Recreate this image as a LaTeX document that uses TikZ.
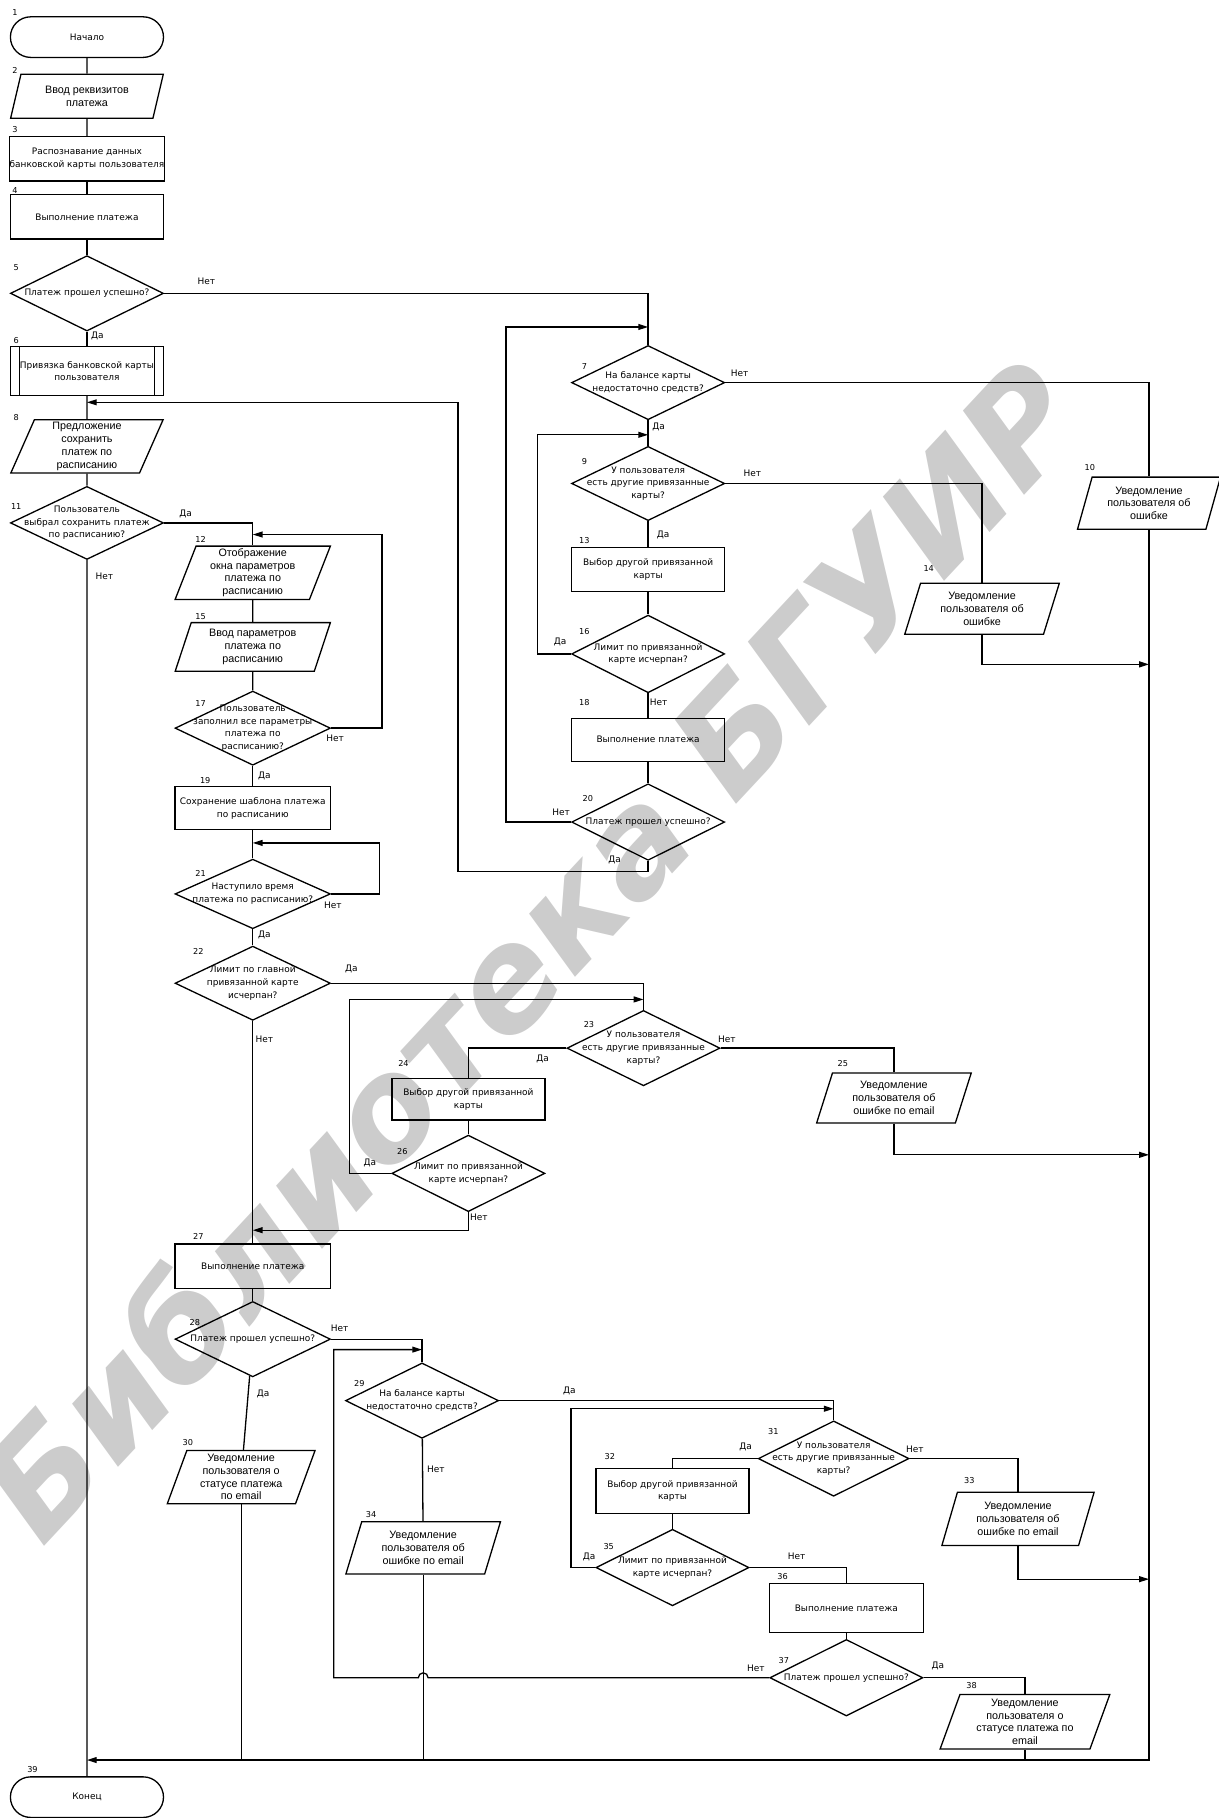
\documentclass[tikz,border=0pt]{standalone}
\usepackage{fontspec}
\usepackage{tikz}
\usetikzlibrary{arrows.meta, positioning, shapes.geometric, shapes.misc}
\newfontfamily\tahomalike{DejaVu Sans}
\newfontfamily\arialike{Liberation Sans}
\newcommand{\smalltxt}{\tahomalike\fontsize{5.5pt}{7.8pt}\selectfont}
\newcommand{\bigtxt}{\arialike\fontsize{6.6pt}{7.8pt}\selectfont}
\newcommand{\numtxt}{\tahomalike\fontsize{5pt}{6pt}\selectfont}
\newcommand{\wmtxt}{\tahomalike\bfseries\itshape\fontsize{86pt}{90pt}\selectfont}

\begin{document}
\begin{tikzpicture}[x=0.025cm, y=-0.025cm,
  conn/.style={line width=0.8pt},
  arr/.style={conn, -{Triangle[length=6pt, width=3.6pt]}},
  term/.style={draw, line width=0.8pt, rounded rectangle, minimum width=3.3cm, minimum height=0.875cm, inner sep=0pt, font=\smalltxt},
  proc/.style={draw, line width=0.8pt, rectangle, minimum width=3.3cm, minimum height=0.95cm, inner sep=0pt, align=center, font=\smalltxt},
  pred/.style={proc, path picture={
    \draw[conn] ([xshift=0.2cm]path picture bounding box.north west) -- ([xshift=0.2cm]path picture bounding box.south west);
    \draw[conn] ([xshift=-0.2cm]path picture bounding box.north east) -- ([xshift=-0.2cm]path picture bounding box.south east);}},
  io/.style={draw, line width=0.8pt, trapezium, trapezium left angle=72, trapezium right angle=108, trapezium stretches=true, minimum width=3.3cm, minimum height=1.15cm, inner sep=0pt, align=center, font=\bigtxt},
  dec/.style={draw, line width=0.8pt, diamond, minimum width=3.3cm, minimum height=1.625cm, inner sep=0pt},
  dtxt/.style={font=\smalltxt, align=center, inner sep=0pt},
  num/.style={font=\numtxt, inner sep=0pt},
  yn/.style={font=\smalltxt, inner sep=0pt},
  wmark/.style={font=\wmtxt, text=black!20, rotate=47, inner sep=0pt}]
\useasboundingbox (0,0) rectangle (1051,1568);
% watermark behind the chart
\node[wmark] (wm) at (455,818) {Библиотека БГУИР};

% left column
\node[term] (n1) at (75,32) {Начало};
\node[io, minimum height=0.95cm] (n2) at (75,83) {Ввод реквизитов\\платежа};
\node[proc] (n3) at (75,137) {Распознавание данных\\банковской карты пользователя};
\node[proc] (n4) at (75,187) {Выполнение платежа};
\node[dec, label={[dtxt]center:{Платеж прошел успешно?}}] (n5) at (75,253) {};
\node[pred, minimum height=1.05cm] (n6) at (75,320) {Привязка банковской карты\\пользователя};
\node[io] (n8) at (75,385) {Предложение\\сохранить\\платеж по\\расписанию};
\node[dec, minimum height=1.575cm, label={[dtxt]center:{Пользователь\\выбрал сохранить платеж\\по расписанию?}}] (n11) at (75,451) {};
\node[term] (n39) at (75,1550) {Конец};

% schedule column
\node[io, minimum width=3.35cm] (n12) at (218,494) {Отображение\\окна параметров\\платежа по\\расписанию};
\node[io, minimum width=3.35cm, minimum height=1.05cm] (n15) at (218,558) {Ввод параметров\\платежа по\\расписанию};
\node[dec, minimum width=3.35cm, minimum height=1.6cm, label={[dtxt]center:{Пользователь\\заполнил все параметры\\платежа по\\расписанию?}}] (n17) at (218,628) {};
\node[proc, minimum width=3.35cm, minimum height=0.925cm] (n19) at (218,697) {Сохранение шаблона платежа\\по расписанию};
\node[dec, minimum width=3.35cm, minimum height=1.5cm, label={[dtxt]center:{Наступило время\\платежа по расписанию?}}] (n21) at (218,771) {};
\node[dec, minimum width=3.35cm, minimum height=1.6cm, label={[dtxt]center:{Лимит по главной\\привязанной карте\\исчерпан?}}] (n22) at (218,848) {};
\node[proc, minimum width=3.35cm] (n27) at (218,1092) {Выполнение платежа};
\node[dec, minimum width=3.35cm, label={[dtxt]center:{Платеж прошел успешно?}}] (n28) at (218,1155) {};
\node[io, minimum width=3.2cm] (n30) at (208,1274) {Уведомление\\пользователя о\\статусе платежа\\по email};

% card column, first payment
\node[dec, minimum height=1.6cm, label={[dtxt]center:{На балансе карты\\недостаточно средств?}}] (n7) at (559,330) {};
\node[dec, minimum height=1.6cm, label={[dtxt]center:{У пользователя\\есть другие привязанные\\карты?}}] (n9) at (559,417) {};
\node[proc] (n13) at (559,491) {Выбор другой привязанной\\карты};
\node[dec, minimum height=1.675cm, label={[dtxt]center:{Лимит по привязанной\\карте исчерпан?}}] (n16) at (559,564) {};
\node[proc, minimum height=0.925cm] (n18) at (559,638) {Выполнение платежа};
\node[dec, minimum height=1.65cm, label={[dtxt]center:{Платеж прошел успешно?}}] (n20) at (559,709) {};
\node[io, minimum width=3.35cm, minimum height=1.1cm] (n14) at (847,525) {Уведомление\\пользователя об\\ошибке};
\node[io, minimum width=3.1cm, minimum height=1.125cm] (n10) at (991,434) {Уведомление\\пользователя об\\ошибке};

% card column, scheduled payment
\node[dec, label={[dtxt]center:{У пользователя\\есть другие привязанные\\карты?}}] (n23) at (555,904) {};
\node[proc, minimum height=0.9cm] (n24) at (404,948) {Выбор другой привязанной\\карты};
\node[dec, minimum height=1.65cm, label={[dtxt]center:{Лимит по привязанной\\карте исчерпан?}}] (n26) at (404,1012) {};
\node[io, minimum width=3.35cm, minimum height=1.075cm] (n25) at (771,947) {Уведомление\\пользователя об\\ошибке по email};

% retry after a failed scheduled payment
\node[dec, label={[dtxt]center:{На балансе карты\\недостаточно средств?}}] (n29) at (364,1208) {};
\node[io, minimum width=3.35cm, minimum height=1.125cm] (n34) at (365,1335) {Уведомление\\пользователя об\\ошибке по email};
\node[dec, minimum width=3.25cm, label={[dtxt]center:{У пользователя\\есть другие привязанные\\карты?}}] (n31) at (719,1258) {};
\node[proc, minimum height=0.975cm] (n32) at (580,1286) {Выбор другой привязанной\\карты};
\node[dec, minimum height=1.65cm, label={[dtxt]center:{Лимит по привязанной\\карте исчерпан?}}] (n35) at (580,1352) {};
\node[io] (n33) at (878,1310) {Уведомление\\пользователя об\\ошибке по email};
\node[proc, minimum width=3.325cm, minimum height=1.05cm] (n36) at (730,1387) {Выполнение платежа};
\node[dec, minimum height=1.65cm, label={[dtxt]center:{Платеж прошел успешно?}}] (n37) at (730,1447) {};
\node[io, minimum width=3.675cm, minimum height=1.175cm] (n38) at (884,1485) {Уведомление\\пользователя о\\статусе платежа по\\email};

% arrow targets on the lines
\coordinate (in7) at (559,282);
\coordinate (in8) at (75,347);
\coordinate (in9) at (559,375);
\coordinate (in12) at (218,461);
\coordinate (in21) at (218,727);
\coordinate (in23) at (555,862);
\coordinate (in27) at (218,1061);
\coordinate (in29) at (364,1164);
\coordinate (in31) at (719,1215);
\coordinate (in39) at (75,1518);
\coordinate (r14) at (991,573);
\coordinate (r25) at (991,996);
\coordinate (r33) at (991,1362);

% block numbers
\node[num] (k1) at (13,11) {1};
\node[num] (k2) at (13,61) {2};
\node[num] (k3) at (13,112) {3};
\node[num] (k4) at (13,164) {4};
\node[num] (k5) at (14,231) {5};
\node[num] (k6) at (14,294) {6};
\node[num] (k7) at (504,316) {7};
\node[num] (k8) at (14,360) {8};
\node[num] (k9) at (504,398) {9};
\node[num] (k10) at (940,403) {10};
\node[num] (k11) at (14,437) {11};
\node[num] (k12) at (173,465) {12};
\node[num] (k13) at (504,466) {13};
\node[num] (k14) at (801,490) {14};
\node[num] (k15) at (173,532) {15};
\node[num] (k16) at (504,545) {16};
\node[num] (k17) at (173,607) {17};
\node[num] (k18) at (504,606) {18};
\node[num] (k19) at (177,673) {19};
\node[num] (k20) at (507,689) {20};
\node[num] (k21) at (173,753) {21};
\node[num] (k22) at (171,821) {22};
\node[num] (k23) at (508,884) {23};
\node[num] (k24) at (348,917) {24};
\node[num] (k25) at (727,917) {25};
\node[num] (k26) at (347,993) {26};
\node[num] (k27) at (171,1066) {27};
\node[num] (k28) at (168,1141) {28};
\node[num] (k29) at (310,1193) {29};
\node[num] (k30) at (162,1244) {30};
\node[num] (k31) at (667,1235) {31};
\node[num] (k32) at (526,1256) {32};
\node[num] (k33) at (836,1277) {33};
\node[num] (k34) at (320,1306) {34};
\node[num] (k35) at (525,1334) {35};
\node[num] (k36) at (675,1360) {36};
\node[num] (k37) at (676,1432) {37};
\node[num] (k38) at (838,1454) {38};
\node[num] (k39) at (28,1526) {39};

% branch labels
\node[yn] (no5) at (178,243) {Нет};
\node[yn] (yes5) at (84,290) {Да};
\node[yn] (no7) at (638,322) {Нет};
\node[yn] (yes7) at (568,368) {Да};
\node[yn] (no9) at (649,408) {Нет};
\node[yn] (yes9) at (572,461) {Да};
\node[yn] (yes16) at (483,554) {Да};
\node[yn] (no16) at (568,606) {Нет};
\node[yn] (no20) at (484,701) {Нет};
\node[yn] (yes20) at (530,742) {Да};
\node[yn] (yes11) at (160,443) {Да};
\node[yn] (no11) at (90,497) {Нет};
\node[yn] (no17) at (289,637) {Нет};
\node[yn] (yes17) at (228,669) {Да};
\node[yn] (no21) at (287,781) {Нет};
\node[yn] (yes21) at (228,806) {Да};
\node[yn] (yes22) at (303,836) {Да};
\node[yn] (no22) at (228,896) {Нет};
\node[yn] (no23) at (627,896) {Нет};
\node[yn] (yes23) at (468,913) {Да};
\node[yn] (yes26) at (319,1003) {Да};
\node[yn] (no26) at (413,1050) {Нет};
\node[yn] (no28) at (293,1146) {Нет};
\node[yn] (yes28) at (227,1202) {Да};
\node[yn] (yes29) at (491,1200) {Да};
\node[yn] (no29) at (376,1267) {Нет};
\node[yn] (yes31) at (643,1248) {Да};
\node[yn] (no31) at (789,1250) {Нет};
\node[yn] (yes35) at (508,1343) {Да};
\node[yn] (no35) at (687,1342) {Нет};
\node[yn] (no37) at (652,1439) {Нет};
\node[yn] (yes37) at (809,1437) {Да};

% main column
\draw[conn] (n1) -- (n2);
\draw[conn] (n2) -- (n3);
\draw[conn] (n3) -- (n4);
\draw[conn] (n4) -- (n5);
\draw[conn] (n5) -- (n6);
\draw[conn] (n6) -- (n8);
\draw[conn] (n8) -- (n11);
\draw[conn] (n11) -- (n39);
\draw[conn] (n5) -| (n7);
\draw[arr] (n20.south) -- ++(0,9) -- ++(-164,0) |- (in8);

% schedule column
\draw[conn] (n11) -| (n12);
\draw[conn] (n12) -- (n15);
\draw[conn] (n15) -- (n17);
\draw[conn] (n17) -- (n19);
\draw[arr] (n17.east) -- ++(44,0) |- (in12);
\draw[conn] (n19) -- (n21);
\draw[arr] (n21.east) -- ++(42,0) |- (in21);
\draw[conn] (n21) -- (n22);
\draw[conn] (n22) -- (n27);
\draw[conn] (n27) -- (n28);
\draw[conn] (n28) -- (n30);
\draw[conn] (n30.south) -- (n30.south |- in39);

% first payment checks
\draw[conn] (n7) -- (n9);
\draw[conn] (n7) -| (n10);
\draw[arr] (n10.south) |- (in39);
\draw[conn] (n9) -- (n13);
\draw[conn] (n9) -| (n14);
\draw[arr] (n14.south) |- (r14);
\draw[conn] (n13) -- (n16);
\draw[arr] (n16.west) -- ++(-29,0) |- (in9);
\draw[conn] (n16) -- (n18);
\draw[conn] (n18) -- (n20);
\draw[arr] (n20.west) -- ++(-56,0) |- (in7);

% scheduled payment checks
\draw[conn] (n22) -| (n23);
\draw[conn] (n23) -| (n24);
\draw[conn] (n23) -| (n25);
\draw[arr] (n25.south) |- (r25);
\draw[conn] (n24) -- (n26);
\draw[arr] (n26.west) -- ++(-36,0) |- (in23);
\draw[arr] (n26.south) |- (in27);

% retry branch
\draw[conn] (n28) -| (n29);
\draw[conn] (n29) -- (n34);
\draw[conn] (n34.south) -- (n34.south |- in39);
\draw[conn] (n29) -| (n31);
\draw[conn] (n31) -| (n32);
\draw[conn] (n31) -| (n33);
\draw[arr] (n33.south) |- (r33);
\draw[conn] (n32) -- (n35);
\draw[arr] (n35.west) -- ++(-21,0) |- (in31);
\draw[conn] (n35) -| (n36);
\draw[conn] (n36) -- (n37);
\draw[conn] (n37) -| (n38);
\draw[conn] (n38.south) -- (n38.south |- in39);
% small hop where the loop crosses the line from block 34
\draw[arr] (n37.west) -- ([xshift=3pt]n34.south |- n37.west) arc[start angle=0, end angle=180, radius=3pt] -- ++(-73,0) |- (in29);
\end{tikzpicture}
\end{document}
